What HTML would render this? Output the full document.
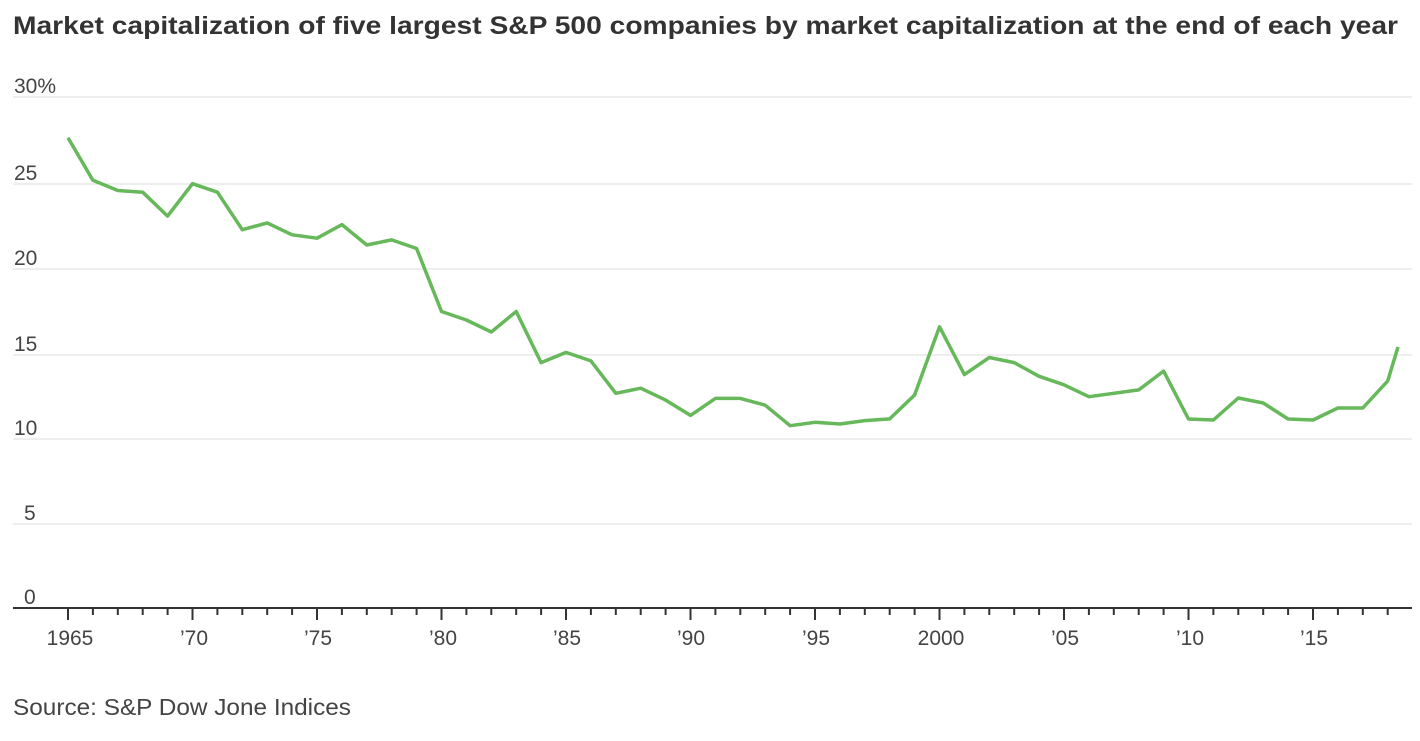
<!DOCTYPE html>
<html><head><style>
body{margin:0;background:#fff;}
svg text{font-family:"Liberation Sans",sans-serif;}
</style></head><body>
<svg width="1420" height="736" xmlns="http://www.w3.org/2000/svg">
<text x="13" y="34" font-size="25" font-weight="bold" fill="#333" textLength="1385" lengthAdjust="spacingAndGlyphs">Market capitalization of five largest S&amp;P 500 companies by market capitalization at the end of each year</text>
<g stroke="#dcdcdc" stroke-width="1">
<line x1="13" x2="1412" y1="97" y2="97"/>
<line x1="13" x2="1412" y1="184" y2="184"/>
<line x1="13" x2="1412" y1="269" y2="269"/>
<line x1="13" x2="1412" y1="355" y2="355"/>
<line x1="13" x2="1412" y1="439" y2="439"/>
<line x1="13" x2="1412" y1="524" y2="524"/>
</g>
<g font-size="21" fill="#444">
<text x="14" y="93">30%</text>
<text x="14" y="180">25</text>
<text x="14" y="265">20</text>
<text x="14" y="351">15</text>
<text x="14" y="435">10</text>
<text x="24" y="520">5</text>
<text x="24" y="604">0</text>
</g>
<line x1="13" x2="1412" y1="608" y2="608" stroke="#333" stroke-width="2"/>
<path stroke="#333" stroke-width="2" fill="none" d="M68,608v12 M92.9,608v7 M117.8,608v7 M142.7,608v7 M167.6,608v7 M192.5,608v12 M217.4,608v7 M242.3,608v7 M267.2,608v7 M292.1,608v7 M317,608v12 M341.9,608v7 M366.8,608v7 M391.7,608v7 M416.6,608v7 M441.5,608v12 M466.4,608v7 M491.3,608v7 M516.2,608v7 M541.1,608v7 M566,608v12 M590.9,608v7 M615.8,608v7 M640.7,608v7 M665.6,608v7 M690.5,608v12 M715.4,608v7 M740.3,608v7 M765.2,608v7 M790.1,608v7 M815,608v12 M839.9,608v7 M864.8,608v7 M889.7,608v7 M914.6,608v7 M939.5,608v12 M964.4,608v7 M989.3,608v7 M1014.2,608v7 M1039.1,608v7 M1064,608v12 M1088.9,608v7 M1113.8,608v7 M1138.7,608v7 M1163.6,608v7 M1188.5,608v12 M1213.4,608v7 M1238.3,608v7 M1263.2,608v7 M1288.1,608v7 M1313,608v12 M1337.9,608v7 M1362.8,608v7 M1387.7,608v7"/>
<g font-size="21" fill="#444" text-anchor="middle">
<text x="70" y="645">1965</text>
<text x="194" y="645">’70</text>
<text x="318" y="645">’75</text>
<text x="443" y="645">’80</text>
<text x="567" y="645">’85</text>
<text x="691" y="645">’90</text>
<text x="816" y="645">’95</text>
<text x="941" y="645">2000</text>
<text x="1065" y="645">’05</text>
<text x="1190" y="645">’10</text>
<text x="1314" y="645">’15</text>
</g>
<text x="13" y="715" font-size="23" fill="#444" textLength="338" lengthAdjust="spacingAndGlyphs">Source: S&amp;P Dow Jone Indices</text>
<polyline fill="none" stroke="#66b85a" stroke-width="3.5" stroke-linejoin="round" points="68,137.7 92.9,180.3 117.8,190.5 142.7,192.2 167.6,216.1 192.5,183.7 217.4,192.2 242.3,229.7 267.2,222.9 292.1,234.8 317,238.2 341.9,224.6 366.8,245 391.7,239.9 416.6,248.5 441.5,311.5 466.4,320 491.3,332 516.2,311.5 541.1,362.6 566,352.4 590.9,360.9 615.8,393.3 640.7,388.2 665.6,400.1 690.5,415.4 715.4,398.4 740.3,398.4 765.2,405.2 790.1,425.7 815,422.3 839.9,424 864.8,420.6 889.7,418.9 914.6,395 939.5,326.8 964.4,374.6 989.3,357.5 1014.2,362.6 1039.1,376.3 1064,384.8 1088.9,396.7 1113.8,393.3 1138.7,389.9 1163.6,371.1 1188.5,419 1213.4,420 1238.3,398 1263.2,403 1288.1,419 1313,420 1337.9,408 1362.8,408 1387.7,381 1398,347"/>
</svg>
</body></html>
